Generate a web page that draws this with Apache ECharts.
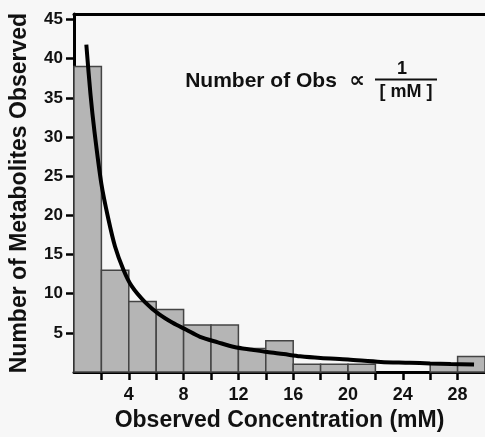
<!DOCTYPE html>
<html>
<head>
<meta charset="utf-8">
<script src="https://cdn.jsdelivr.net/npm/echarts@6/dist/echarts.min.js"></script>
<style>
html, body { margin: 0; padding: 0; background: #f7f7f7; }
#chart { width: 485px; height: 437px; }
</style>
</head>
<body>
<div id="chart"></div>
<script>
// histogram bins (mM), width 2
var binStart = [0, 2, 4, 6, 8, 10, 12, 14, 16, 18, 20, 22, 24, 26, 28]
var binCount = [39, 13, 9, 8, 6, 6, 3, 4, 1, 1, 1, 0, 0, 1, 2]
var binWidth = 2

// fitted 1/[mM] curve
var curveX = [0.9, 1.2, 1.5, 2.0, 2.5, 3.0, 3.6, 4.2, 5.2, 6.2, 7.2, 8.2, 9.2, 10.5, 11.7, 13, 14.1, 15.3, 16.5, 18, 20, 22.4, 24.5, 26, 27.5, 29.2]
var curveY = [41.8, 35.5, 30.6, 24.0, 19.6, 16.0, 13.1, 11.0, 8.9, 7.4, 6.3, 5.4, 4.5, 3.8, 3.2, 2.85, 2.56, 2.3, 2.02, 1.8, 1.6, 1.3, 1.2, 1.1, 1.03, 0.97]

// tick labels
var yTicks = [5, 10, 15, 20, 25, 30, 35, 40, 45]
var xTickMarks = [2, 4, 6, 8, 10, 12, 14, 16, 18, 20, 22, 24, 26, 28]
var xTickLabels = [4, 8, 12, 16, 20, 24, 28]

var chart = echarts.init(document.getElementById('chart'))

var histData = []
for (var i = 0; i < binStart.length; i++) {
    histData.push([binStart[i], binStart[i] + binWidth, binCount[i]])
}
var curveData = []
for (var j = 0; j < curveX.length; j++) {
    curveData.push([curveX[j], curveY[j]])
}

var font = '"Liberation Sans", Arial, sans-serif'

chart.setOption({
    backgroundColor: '#f7f7f7',
    animation: false,
    textStyle: { fontFamily: font },
    grid: { left: 73.5, right: 0, top: 14, bottom: 60 },
    xAxis: [{
        type: 'value',
        min: 0,
        max: 30,
        interval: 2,
        name: 'Observed Concentration (mM)',
        nameLocation: 'middle',
        nameGap: 35,
        nameTextStyle: { fontSize: 23, fontWeight: 'bold', color: '#111', fontFamily: font },
        axisLine: { lineStyle: { color: '#000', width: 3 } },
        axisTick: { customValues: xTickMarks, length: 8, lineStyle: { color: '#000', width: 2.5 } },
        axisLabel: { customValues: xTickLabels, margin: 14, fontSize: 18, fontWeight: 'bold', color: '#111', fontFamily: font },
        splitLine: { show: false }
    }, {
        // top frame line
        type: 'value',
        position: 'top',
        min: 0,
        max: 30,
        axisLine: { show: true, lineStyle: { color: '#000', width: 3 } },
        axisTick: { show: false },
        axisLabel: { show: false },
        splitLine: { show: false }
    }],
    yAxis: {
        type: 'value',
        min: 0,
        max: 45.7,
        name: 'Number of Metabolites Observed',
        nameLocation: 'middle',
        nameGap: 43,
        nameRotate: 90,
        nameTextStyle: { fontSize: 23, fontWeight: 'bold', color: '#111', fontFamily: font },
        axisLine: { show: true, lineStyle: { color: '#000', width: 3 } },
        axisTick: { show: true, customValues: yTicks, length: 8, lineStyle: { color: '#000', width: 2.5 } },
        axisLabel: { customValues: yTicks, margin: 11, fontSize: 17, fontWeight: 'bold', color: '#111', fontFamily: font },
        splitLine: { show: false }
    },
    series: [{
        type: 'custom',
        data: histData,
        z: 1,
        renderItem: function (params, api) {
            if (api.value(2) <= 0) return
            var p0 = api.coord([api.value(0), api.value(2)])
            var p1 = api.coord([api.value(1), 0])
            return {
                type: 'rect',
                shape: { x: p0[0], y: p0[1], width: p1[0] - p0[0], height: p1[1] - p0[1] },
                style: { fill: '#b5b5b5', stroke: '#444', lineWidth: 1.5 }
            }
        }
    }, {
        type: 'line',
        data: curveData,
        smooth: 0.3,
        showSymbol: false,
        z: 3,
        lineStyle: { color: '#000', width: 4 }
    }],
    graphic: [{
        type: 'text',
        x: 261, y: 81,
        style: { text: 'Number of Obs', font: 'bold 21px ' + font, fill: '#111', align: 'center', verticalAlign: 'middle' }
    }, {
        type: 'text',
        x: 357, y: 81,
        style: { text: '∝', font: 'bold 22px "DejaVu Sans", sans-serif', fill: '#111', align: 'center', verticalAlign: 'middle' }
    }, {
        type: 'text',
        x: 402, y: 69,
        style: { text: '1', font: 'bold 18px ' + font, fill: '#111', align: 'center', verticalAlign: 'middle' }
    }, {
        type: 'line',
        shape: { x1: 375, y1: 79.5, x2: 437, y2: 79.5 },
        style: { stroke: '#111', lineWidth: 2 }
    }, {
        type: 'text',
        x: 406, y: 92,
        style: { text: '[ mM ]', font: 'bold 18px ' + font, fill: '#111', align: 'center', verticalAlign: 'middle' }
    }]
})
</script>
</body>
</html>
